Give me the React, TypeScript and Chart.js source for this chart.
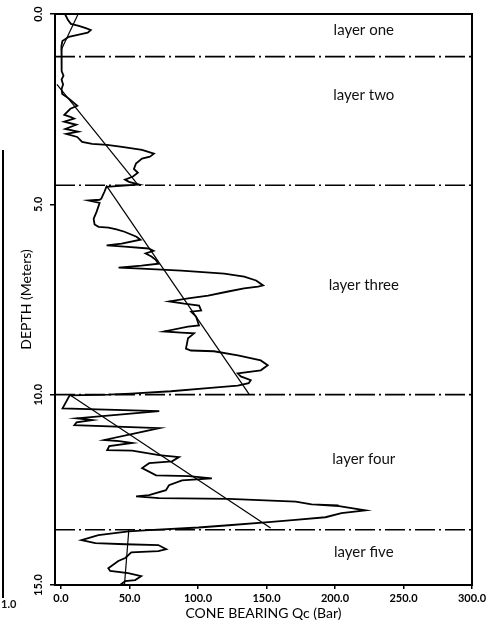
import { useEffect, useRef } from "react";
import { Chart, registerables } from "chart.js";

Chart.register(...registerables);

// Cone penetration profile: depth (m) vs cone bearing Qc (bar)
const depthM = [
  0.0, 0.16, 0.26, 0.31, 0.37, 0.42, 0.49, 0.54, 0.6, 0.71, 0.84, 1.2, 1.5, 1.62, 1.72, 1.85, 1.97,
  2.1, 2.23, 2.41, 2.49, 2.65, 2.7, 2.75, 2.83, 2.91, 3.02, 3.09, 3.15, 3.23, 3.36, 3.41, 3.44, 3.49,
  3.57, 3.67, 3.75, 3.8, 3.93, 4.07, 4.17, 4.27, 4.35, 4.41, 4.48,
  4.54, 4.67, 4.85, 4.88, 4.9, 4.96, 5.19, 5.38, 5.53, 5.59, 5.61, 5.66, 5.72, 5.85, 5.93, 6.03,
  6.08, 6.11, 6.16, 6.22, 6.29, 6.37, 6.45, 6.56, 6.61, 6.66, 6.69, 6.74, 6.82, 6.9, 7.0, 7.13,
  7.16, 7.21, 7.29, 7.4, 7.47, 7.55, 7.61, 7.66, 7.79, 7.82, 7.95, 8.18, 8.21, 8.34, 8.37, 8.39,
  8.52, 8.79, 8.84, 8.86, 8.97, 9.1, 9.23, 9.36, 9.44, 9.52, 9.62, 9.7, 9.76, 9.83, 9.91, 9.97,
  10.0, 10.02,
  10.36, 10.43, 10.62, 10.67, 10.73, 10.8, 10.88, 11.01, 11.19, 11.22, 11.27, 11.35, 11.46, 11.47,
  11.59, 11.64, 11.75, 11.8, 11.93, 12.12, 12.14, 12.2, 12.25, 12.38, 12.51, 12.64, 12.67, 12.72,
  12.74, 12.81, 12.88, 12.91, 12.89, 12.93, 13.04, 13.11, 13.22, 13.29, 13.35, 13.43, 13.49, 13.56,
  13.59,
  13.69, 13.82, 13.9, 13.93, 13.95, 14.06, 14.11, 14.14, 14.29, 14.37, 14.56, 14.63, 14.69, 14.77,
  14.87, 14.9, 15.0,
];
const qcBar = [
  2.9, 5.1, 7.2, 13.0, 18.1, 21.7, 19.5, 13.0, 5.7, 1.0, 0.3, 0.3, 0.6, 1.8, 0.4, 1.5, 0.4,
  0.9, 6.0, 11.9, 6.8, 2.4, 6.7, 9.6, 2.3, 11.1, 3.1, 12.5, 3.8, 11.8, 15.4, 22.7, 33.6, 44.5,
  59.1, 67.8, 64.9, 59.1, 54.7, 53.2, 56.1, 52.5, 46.7, 49.6, 56.9,
  33.1, 31.7, 29.4, 28.2, 20.2, 28.2, 26.0, 23.8, 24.5, 27.4, 34.7, 40.5, 46.3, 55.1, 58.0, 44.2,
  33.3, 46.4, 63.9, 67.5, 61.7, 66.0, 68.9, 71.1, 58.7, 42.0, 58.7, 87.8, 119.1, 133.7, 142.4, 147.5,
  143.8, 133.6, 122.0, 107.4, 92.8, 79.0, 89.9, 100.8, 102.3, 95.0, 98.6, 100.7, 92.7, 75.2, 87.6, 97.1,
  92.7, 91.2, 94.8, 111.6, 129.1, 145.8, 150.9, 145.8, 129.0, 131.2, 138.5, 137.0, 129.0, 107.1, 80.2, 51.0,
  34.3, 6.3,
  1.1, 71.7, 11.3, 22.9, 11.3, 9.8, 71.7, 54.9, 31.6, 42.5, 52.0, 35.2, 33.7, 51.9,
  71.6, 86.1, 81.0, 64.3, 59.2, 69.4, 93.4, 110.1, 88.3, 78.8, 76.6, 64.2, 54.8, 71.5,
  122.5, 171.3, 182.9, 202.6, 186.0, 203.0, 222.2, 204.7, 193.0, 171.1, 151.5, 122.3, 100.4, 64.0,
  49.4,
  27.3, 14.9, 25.1, 46.9, 71.0, 76.8, 71.0, 51.3, 46.9, 41.8, 34.5, 35.9, 49.0, 58.5,
  54.1, 46.8, 43.1,
];

// Straight trend lines fitted inside each layer
const trendTopDepth = [0.0, 1.85, 4.5, 10.0, 13.55];
const trendTopQc = [12.5, -3.0, 33.0, 6.3, 49.5];
const trendBottomDepth = [0.95, 4.5, 10.0, 13.5, 15.0];
const trendBottomQc = [0.0, 56.5, 137.5, 153.0, 46.3];

// Layer boundaries and labels
const layerBoundaries = [1.12, 4.5, 10.0, 13.55];
const layerNames = ["layer one", "layer two", "layer three", "layer four", "layer five"];
const layerLabelDepth = [0.42, 2.13, 7.12, 11.69, 14.13];
const layerLabelQc = 221;

const xTicks = [0, 50, 100, 150, 200, 250, 300];
const yTicks = [0, 5, 10, 15];
const xMin = -4.4;
const xMax = 300;

export default function App() {
  const canvasRef = useRef<HTMLCanvasElement | null>(null);

  useEffect(() => {
    const canvas = canvasRef.current;
    if (!canvas) return;

    const profile = {
      label: "Qc",
      data: depthM.map((d, i) => ({ x: qcBar[i], y: d })),
      showLine: true,
      borderColor: "#000",
      borderWidth: 1.8,
      pointRadius: 0,
      tension: 0,
    };
    const trends = trendTopDepth.map((d, i) => ({
      label: "trend " + (i + 1),
      data: [
        { x: trendTopQc[i], y: d },
        { x: trendBottomQc[i], y: trendBottomDepth[i] },
      ],
      showLine: true,
      borderColor: "#000",
      borderWidth: 1.2,
      pointRadius: 0,
    }));
    const bounds = layerBoundaries.map((d, i) => ({
      label: "boundary " + (i + 1),
      data: [
        { x: xMin, y: d },
        { x: xMax, y: d },
      ],
      showLine: true,
      borderColor: "#000",
      borderWidth: 1.6,
      borderDash: [20, 4, 2, 4],
      pointRadius: 0,
    }));

    const decor = {
      id: "decor",
      afterDraw(chart: any) {
        const { ctx, chartArea, scales } = chart;
        ctx.save();
        // frame
        ctx.strokeStyle = "#000";
        ctx.lineWidth = 2;
        ctx.strokeRect(chartArea.left, chartArea.top, chartArea.right - chartArea.left, chartArea.bottom - chartArea.top);
        // layer labels
        ctx.fillStyle = "#111";
        ctx.font = "15px Lato";
        ctx.textAlign = "center";
        ctx.textBaseline = "middle";
        layerNames.forEach((name, i) => {
          ctx.fillText(name, scales.x.getPixelForValue(layerLabelQc), scales.y.getPixelForValue(layerLabelDepth[i]));
        });
        // remnant of the neighbouring scanned plot
        ctx.beginPath();
        ctx.lineWidth = 2;
        ctx.moveTo(3, 150);
        ctx.lineTo(3, 598);
        ctx.stroke();
        ctx.font = "bold 11px Lato";
        ctx.textAlign = "left";
        ctx.fillText("1.0", 1, 604);
        ctx.restore();
      },
    };

    const chart = new Chart(canvas, {
      type: "scatter",
      data: { datasets: [profile, ...trends, ...bounds] as any },
      options: {
        animation: false,
        responsive: false,
        maintainAspectRatio: false,
        layout: { padding: { left: 0, right: 28, top: 14, bottom: 0 } },
        plugins: { legend: { display: false }, tooltip: { enabled: false } },
        scales: {
          x: {
            type: "linear",
            min: xMin,
            max: xMax,
            afterBuildTicks: (s: any) => {
              s.ticks = xTicks.map((v) => ({ value: v }));
            },
            afterFit: (s: any) => {
              s.height = 40;
              s.paddingLeft = 0;
              s.paddingRight = 0;
            },
            ticks: {
              callback: (v: any) => Number(v).toFixed(1),
              minRotation: 0,
              maxRotation: 0,
              padding: 3,
              color: "#000",
              font: { family: "Lato", size: 11, weight: "bold" },
            },
            grid: { display: true, drawOnChartArea: false, drawTicks: true, tickLength: 4, color: "#000", lineWidth: 1.5 },
            border: { display: true, color: "#000", width: 2 },
            title: {
              display: true,
              text: "CONE BEARING Qc (Bar)",
              color: "#000",
              font: { family: "Lato", size: 14 },
              padding: { top: 0, bottom: 3 },
            },
          },
          y: {
            type: "linear",
            reverse: true,
            min: 0,
            max: 15,
            afterBuildTicks: (s: any) => {
              s.ticks = yTicks.map((v) => ({ value: v }));
            },
            afterFit: (s: any) => {
              s.width = 55;
              s.paddingTop = 0;
              s.paddingBottom = 0;
            },
            ticks: {
              callback: (v: any) => Number(v).toFixed(1),
              minRotation: 90,
              maxRotation: 90,
              crossAlign: "center",
              padding: 1,
              color: "#000",
              font: { family: "Lato", size: 11, weight: "bold" },
            },
            grid: { display: true, drawOnChartArea: false, drawTicks: true, tickLength: 5, color: "#000", lineWidth: 1.5 },
            border: { display: true, color: "#000", width: 2 },
            title: {
              display: true,
              text: "DEPTH (Meters)",
              color: "#000",
              font: { family: "Lato", size: 14 },
              padding: { top: 18, bottom: 0 },
            },
          },
        },
      },
      plugins: [decor],
    });

    return () => chart.destroy();
  }, []);

  return (
    <div style={{ position: "fixed", left: 0, top: 0, width: 500, height: 625, background: "#fff" }}>
      <canvas ref={canvasRef} width={500} height={625} style={{ width: 500, height: 625, display: "block" }} />
    </div>
  );
}
